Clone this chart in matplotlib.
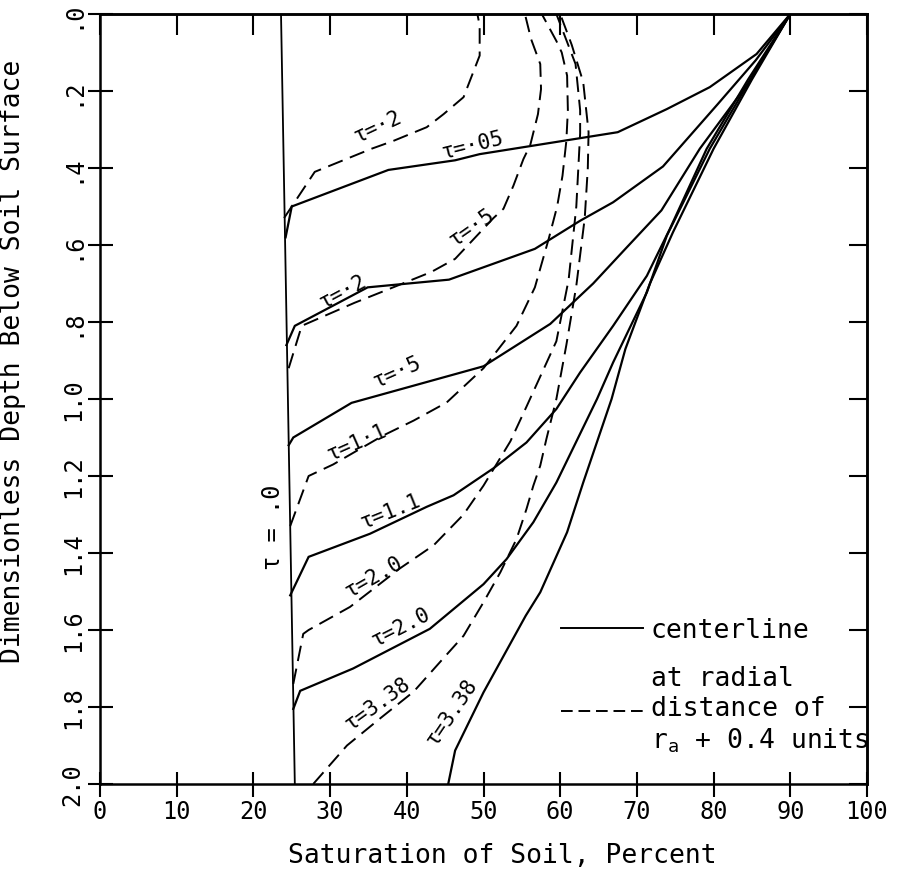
import matplotlib
matplotlib.use('Agg')
import matplotlib.pyplot as plt
from matplotlib.lines import Line2D

plt.rcParams['font.family'] = ['DejaVu Sans Mono', 'DejaVu Sans']
plt.rcParams['mathtext.fontset'] = 'custom'
plt.rcParams['mathtext.rm'] = 'DejaVu Sans Mono'
plt.rcParams['mathtext.it'] = 'DejaVu Sans Mono'

# ---------------- data ----------------
x_ticks = [0, 10, 20, 30, 40, 50, 60, 70, 80, 90, 100]
y_ticks = [0.0, 0.2, 0.4, 0.6, 0.8, 1.0, 1.2, 1.4, 1.6, 1.8, 2.0]
y_tick_labels = ['.0', '.2', '.4', '.6', '.8', '1.0', '1.2', '1.4', '1.6', '1.8', '2.0']

# tau = 0 profile
tau0_sat = [23.6, 25.4]
tau0_depth = [0.0, 2.0]

# centerline profiles (solid)
c005_sat = [24.2, 25.0, 37.6, 46.3, 49.5, 67.5, 73.9, 79.5, 85.6, 90.0]
c005_depth = [0.58, 0.50, 0.405, 0.38, 0.364, 0.307, 0.247, 0.19, 0.104, 0.0]

c02_sat = [24.3, 25.4, 34.9, 45.5, 56.7, 62.6, 66.9, 73.4, 80.5, 85.5, 90.0]
c02_depth = [0.86, 0.81, 0.71, 0.69, 0.61, 0.537, 0.489, 0.396, 0.235, 0.12, 0.0]

c05_sat = [24.6, 25.2, 32.8, 50.0, 58.7, 64.3, 68.5, 73.2, 78.2, 84.5, 90.0]
c05_depth = [1.12, 1.10, 1.01, 0.915, 0.805, 0.70, 0.61, 0.51, 0.35, 0.18, 0.0]

c11_sat = [24.8, 27.2, 35.2, 42.6, 46.1, 51.3, 55.6, 59.5, 62.6, 66.9, 71.3, 74.3, 79.1, 84.5, 90.0]
c11_depth = [1.51, 1.41, 1.35, 1.28, 1.25, 1.18, 1.113, 1.026, 0.931, 0.81, 0.68, 0.558, 0.35, 0.17, 0.0]

c20_sat = [25.2, 26.1, 33.0, 43.0, 50.0, 53.0, 56.5, 59.5, 64.8, 66.9, 71.3, 73.9, 79.5, 84.8, 90.0]
c20_depth = [1.805, 1.758, 1.70, 1.597, 1.481, 1.416, 1.32, 1.217, 1.0, 0.905, 0.723, 0.576, 0.35, 0.17, 0.0]

c338_sat = [45.4, 46.3, 50.0, 55.5, 57.4, 60.9, 63.0, 66.7, 68.5, 71.7, 74.7, 80.0, 85.0, 90.0]
c338_depth = [2.0, 1.913, 1.762, 1.563, 1.502, 1.346, 1.217, 1.0, 0.87, 0.70, 0.567, 0.35, 0.17, 0.0]

# profiles at radial distance r_a + 0.4 (dashed)
d02_sat = [24.0, 28.0, 35.4, 38.2, 42.6, 44.8, 47.4, 49.5, 49.5, 49.2]
d02_depth = [0.53, 0.41, 0.35, 0.33, 0.294, 0.26, 0.216, 0.108, 0.03, 0.0]

d05_sat = [24.6, 26.3, 33.2, 37.6, 43.2, 46.3, 51.3, 52.6, 53.9, 55.2, 56.1, 57.1, 57.5, 57.4, 56.2, 55.4]
d05_depth = [0.92, 0.81, 0.75, 0.715, 0.67, 0.636, 0.53, 0.506, 0.446, 0.377, 0.34, 0.26, 0.195, 0.13, 0.065, 0.0]

d11_sat = [24.8, 27.2, 30.4, 36.9, 40.9, 45.2, 50.0, 54.3, 56.7, 58.5, 59.6, 60.3, 60.8, 61.0, 60.9, 60.2, 59.5, 57.6]
d11_depth = [1.33, 1.20, 1.17, 1.095, 1.056, 1.009, 0.92, 0.81, 0.71, 0.584, 0.50, 0.42, 0.33, 0.25, 0.16, 0.10, 0.07, 0.0]

d20_sat = [25.2, 26.5, 27.2, 32.6, 39.1, 43.5, 47.4, 50.0, 53.5, 55.6, 59.5, 61.1, 62.1, 62.6, 62.6, 62.0, 59.5]
d20_depth = [1.74, 1.61, 1.60, 1.54, 1.44, 1.38, 1.30, 1.225, 1.11, 1.02, 0.85, 0.69, 0.50, 0.31, 0.25, 0.13, 0.0]

d338_sat = [27.8, 32.2, 36.5, 40.9, 44.7, 47.4, 50.0, 52.2, 54.3, 55.6, 56.5, 57.4, 58.2, 59.5, 60.8, 62.1, 63.2, 63.6, 63.7, 63.0, 61.5, 60.0]
d338_depth = [2.0, 1.90, 1.83, 1.76, 1.675, 1.615, 1.528, 1.45, 1.364, 1.286, 1.225, 1.173, 1.104, 1.0, 0.86, 0.706, 0.53, 0.40, 0.307, 0.177, 0.08, 0.0]

# curve annotations: text, saturation, depth, rotation
annot_text = ['τ=·2', 'τ=·05', 'τ=·5', 'τ=·2', 'τ=·5', 'τ=1·1', 'τ=1.1', 'τ=2.0', 'τ=2.0', 'τ=3.38', 'τ=3.38']
annot_sat = [36.2, 48.6, 48.4, 31.6, 38.7, 33.5, 37.9, 35.7, 39.2, 36.2, 45.8]
annot_depth = [0.29, 0.338, 0.553, 0.72, 0.927, 1.11, 1.29, 1.46, 1.59, 1.79, 1.81]
annot_rot = [25, 14, 35, 28, 24, 24, 22, 30, 27, 36, 56]

# ---------------- figure ----------------
fig = plt.figure(figsize=(9.01, 8.78), dpi=100)
ax = fig.add_axes([100 / 901, 1 - 785 / 878, 767 / 901, 770 / 878])

lw = 1.6
dash = (0, (8, 4))
ax.plot(tau0_sat, tau0_depth, color='black', lw=1.3)

for s, d in [(c005_sat, c005_depth), (c02_sat, c02_depth), (c05_sat, c05_depth),
             (c11_sat, c11_depth), (c20_sat, c20_depth), (c338_sat, c338_depth)]:
    ax.plot(s, d, color='black', lw=lw, solid_joinstyle='miter')

for s, d in [(d02_sat, d02_depth), (d05_sat, d05_depth), (d11_sat, d11_depth),
             (d20_sat, d20_depth), (d338_sat, d338_depth)]:
    ax.plot(s, d, color='black', lw=1.4, linestyle=dash)

for t, s, d, r in zip(annot_text, annot_sat, annot_depth, annot_rot):
    ax.text(s, d, t, rotation=r, ha='center', va='center', rotation_mode='anchor',
            fontsize=15)

ax.text(22.6, 1.33, 'τ = .0', rotation=90, ha='center', va='center', fontsize=17)

ax.set_xlim(0, 100)
ax.set_ylim(2.0, 0.0)
ax.set_xticks(x_ticks)
ax.set_yticks(y_ticks)
ax.set_yticklabels(y_tick_labels, rotation=90, va='center')
ax.tick_params(axis='both', direction='inout', length=18, width=1.5, labelsize=17,
               top=False, right=False, pad=2)
for sp in ax.spines.values():
    sp.set_linewidth(1.8)

secx = ax.secondary_xaxis('top')
secx.set_xticks(x_ticks)
secx.tick_params(direction='in', length=15, width=1.5, labeltop=False)
secx.spines['top'].set_linewidth(1.8)
secy = ax.secondary_yaxis('right')
secy.set_yticks(y_ticks)
secy.tick_params(direction='in', length=13, width=1.5, labelright=False)
secy.spines['right'].set_linewidth(1.8)

ax.set_xlabel('Saturation of Soil, Percent', fontsize=19)
ax.xaxis.set_label_coords(0.525, -0.075)
ax.set_ylabel('Dimensionless Depth Below Soil Surface', fontsize=19)
ax.yaxis.set_label_coords(-0.096, 0.55)

handles = [Line2D([], [], color='black', lw=1.4),
           Line2D([], [], color='black', lw=1.4, linestyle=(0, (6, 3)))]
labels = ['centerline', 'at radial\ndistance of\nr$_{a}$ + 0.4 units']
ax.legend(handles, labels, loc='upper left', bbox_to_anchor=(0.601, 0.217),
          frameon=False, fontsize=19, handlelength=3.1, handletextpad=0.3,
          borderaxespad=0, borderpad=0, labelspacing=0.85)

fig.savefig('out.png', dpi=100)
